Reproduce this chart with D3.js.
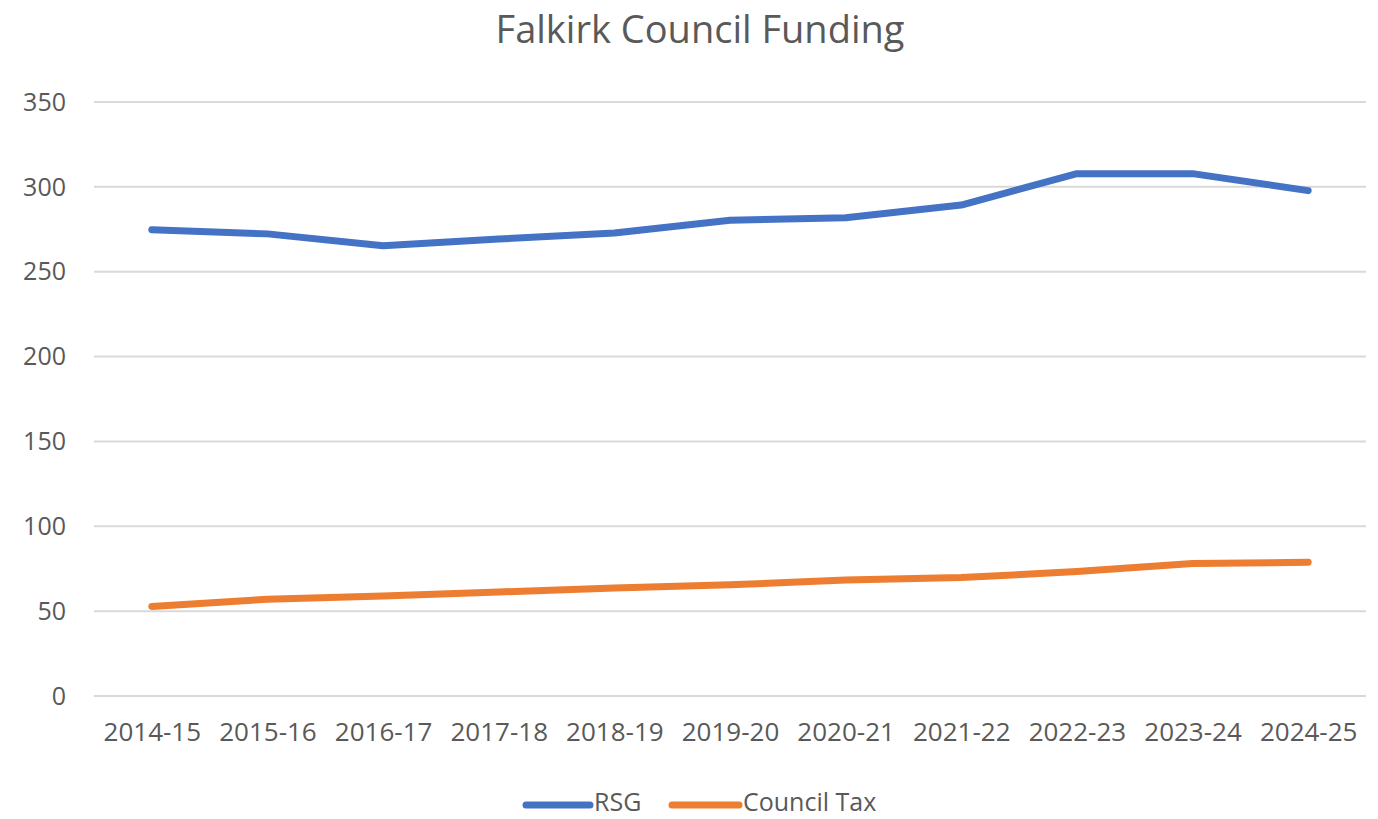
<!DOCTYPE html>
<html>
<head>
<meta charset="utf-8">
<script src="https://cdn.jsdelivr.net/npm/d3@7"></script>
<style>
  html, body { margin: 0; padding: 0; background: #fff; }
  svg text { font-family: "Open Sans", sans-serif; fill: #595959; }
</style>
</head>
<body>
<svg id="chart" width="1378" height="819"></svg>
<script>
const title = "Falkirk Council Funding";
const categories = ["2014-15","2015-16","2016-17","2017-18","2018-19","2019-20","2020-21","2021-22","2022-23","2023-24","2024-25"];
const rsg = [274.5, 272, 265, 269, 272.5, 280, 281.5, 289, 307.5, 307.5, 297.5];
const councilTax = [52.5, 56.7, 58.7, 61, 63.3, 65.2, 68, 69.5, 73, 77.8, 78.5];
const seriesNames = ["RSG", "Council Tax"];
const seriesColors = ["#4472C4", "#ED7D31"];
const yTicks = [0, 50, 100, 150, 200, 250, 300, 350];

const svg = d3.select("#chart");
const margin = {left: 94, right: 12, top: 101.5, bottom: 123};
const W = 1378, H = 819;

const x = d3.scalePoint().domain(categories).range([margin.left, W - margin.right]).padding(0.5);
const y = d3.scaleLinear().domain([0, 350]).range([695.5, 101.5]);

// Title
svg.append("text").attr("x", 700).attr("y", 43).attr("text-anchor", "middle")
  .style("font-size", "38px").text(title);

// Grid
const yAxis = d3.axisLeft(y).tickValues(yTicks).tickSize(-(W - margin.right - margin.left)).tickPadding(28);
const gy = svg.append("g").attr("transform", `translate(${margin.left},0)`).call(yAxis);
gy.select(".domain").remove();
gy.selectAll(".tick line").attr("stroke", "#d9d9d9").attr("stroke-width", 2);
gy.selectAll(".tick text").style("font-size", "25px").attr("fill", "#595959").attr("dy", "0.35em");

// X axis labels
const xAxis = d3.axisBottom(x).tickSize(0).tickPadding(27);
const gx = svg.append("g").attr("transform", `translate(0,${y(0)})`).call(xAxis);
gx.select(".domain").remove();
gx.selectAll(".tick text").style("font-size", "26px").attr("fill", "#595959");

// Lines
const line = d3.line().x((d, i) => x(categories[i])).y(d => y(d));
[rsg, councilTax].forEach((s, k) => {
  svg.append("path").datum(s).attr("d", line)
    .attr("fill", "none").attr("stroke", seriesColors[k]).attr("stroke-width", 7)
    .attr("stroke-linecap", "round").attr("stroke-linejoin", "round");
});

// Legend
const legendItems = [{x1: 526, x2: 590, tx: 594}, {x1: 672, x2: 739, tx: 743}];
const ly = 805;
seriesNames.forEach((n, k) => {
  const it = legendItems[k];
  svg.append("line").attr("x1", it.x1).attr("x2", it.x2).attr("y1", ly).attr("y2", ly)
    .attr("stroke", seriesColors[k]).attr("stroke-width", 7).attr("stroke-linecap", "round");
  svg.append("text").attr("x", it.tx).attr("y", 811)
    .style("font-size", "25px").text(n);
});
</script>
</body>
</html>
